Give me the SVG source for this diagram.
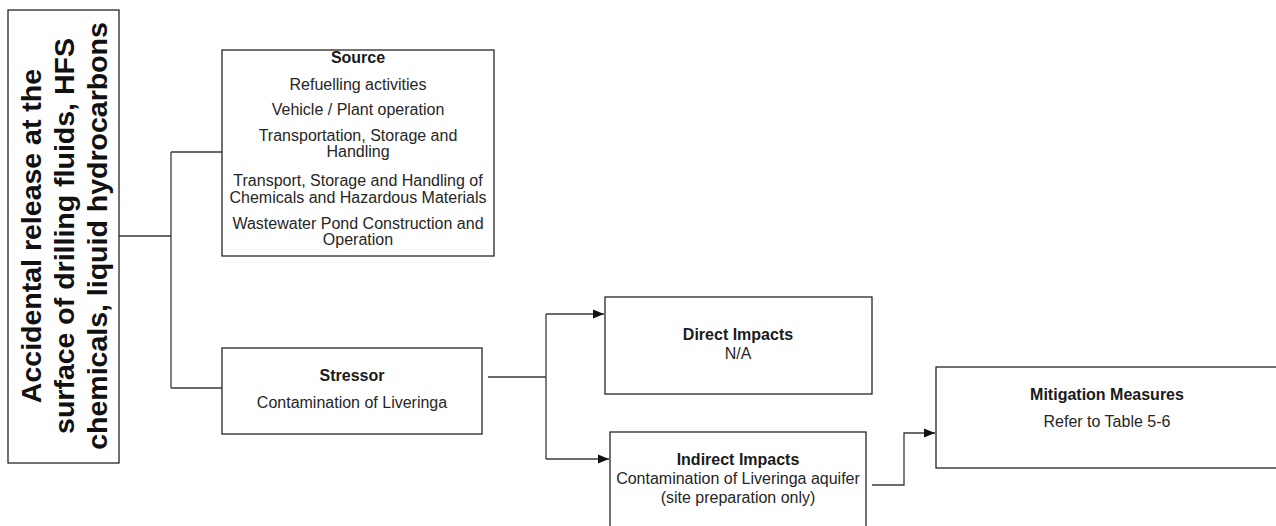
<svg xmlns="http://www.w3.org/2000/svg" width="1276" height="526" viewBox="0 0 1276 526">
  <style>
    .box { fill: #ffffff; stroke: #262626; stroke-width: 1.3; }
    .wire { fill: none; stroke: #3a3a3a; stroke-width: 1.3; }
    .txt { font-family: "Liberation Sans", Arial, sans-serif; font-size: 16px; fill: #262626; text-anchor: middle; }
    .hd { font-weight: bold; font-size: 16px; fill: #1a1a1a; }
    .big { font-family: "Liberation Sans", Arial, sans-serif; font-size: 28.5px; font-weight: bold; fill: #111111; text-anchor: middle; }
  </style>
  <defs>
    <marker id="arrow" viewBox="0 0 11 10" refX="11" refY="5" markerWidth="11" markerHeight="10" markerUnits="userSpaceOnUse" orient="auto">
      <path d="M0,0.5 L11,5 L0,9.5 Z" fill="#111111"/>
    </marker>
  </defs>

  <rect width="1276" height="526" fill="#ffffff"/>

  <!-- connectors -->
  <g id="connectors">
    <path class="wire" d="M119,236 H171 M171,152 V388 M171,152 H222 M171,388 H222"/>
    <path class="wire" d="M488,377 H546 M546,314 V459"/>
    <path class="wire" d="M546,314 H604" marker-end="url(#arrow)"/>
    <path class="wire" d="M546,459 H609" marker-end="url(#arrow)"/>
    <path class="wire" d="M872,485 H904 V433 H935" marker-end="url(#arrow)"/>
  </g>

  <!-- event -->
  <g id="event">
    <rect class="box" x="8" y="10" width="111" height="453"/>
    <text class="big" transform="translate(41,236) rotate(-90)">Accidental release at the</text>
    <text class="big" transform="translate(74,236) rotate(-90)">surface of drilling fluids, HFS</text>
    <text class="big" transform="translate(107,236) rotate(-90)">chemicals, liquid hydrocarbons</text>
  </g>

  <!-- source -->
  <g id="source">
    <rect class="box" x="222" y="50" width="272" height="206"/>
    <text class="txt hd" x="358" y="63">Source</text>
    <text class="txt" x="358" y="90">Refuelling activities</text>
    <text class="txt" x="358" y="115">Vehicle / Plant operation</text>
    <text class="txt" x="358" y="141">Transportation, Storage and</text>
    <text class="txt" x="358" y="157">Handling</text>
    <text class="txt" x="358" y="186">Transport, Storage and Handling of</text>
    <text class="txt" x="358" y="203">Chemicals and Hazardous Materials</text>
    <text class="txt" x="358" y="229">Wastewater Pond Construction and</text>
    <text class="txt" x="358" y="245">Operation</text>
  </g>

  <!-- stressor -->
  <g id="stressor">
    <rect class="box" x="222" y="348" width="260" height="86"/>
    <text class="txt hd" x="352" y="381">Stressor</text>
    <text class="txt" x="352" y="408">Contamination of Liveringa</text>
  </g>

  <!-- direct impacts -->
  <g id="direct">
    <rect class="box" x="605" y="297" width="267" height="97"/>
    <text class="txt hd" x="738" y="340">Direct Impacts</text>
    <text class="txt" x="738" y="359">N/A</text>
  </g>

  <!-- indirect impacts -->
  <g id="indirect">
    <rect class="box" x="610" y="432" width="256" height="110"/>
    <text class="txt hd" x="738" y="465">Indirect Impacts</text>
    <text class="txt" x="738" y="484">Contamination of Liveringa aquifer</text>
    <text class="txt" x="738" y="503">(site preparation only)</text>
  </g>

  <!-- mitigation -->
  <g id="mitigation">
    <rect class="box" x="936" y="367" width="344" height="101"/>
    <text class="txt hd" x="1107" y="400">Mitigation Measures</text>
    <text class="txt" x="1107" y="427">Refer to Table 5-6</text>
  </g>
</svg>
